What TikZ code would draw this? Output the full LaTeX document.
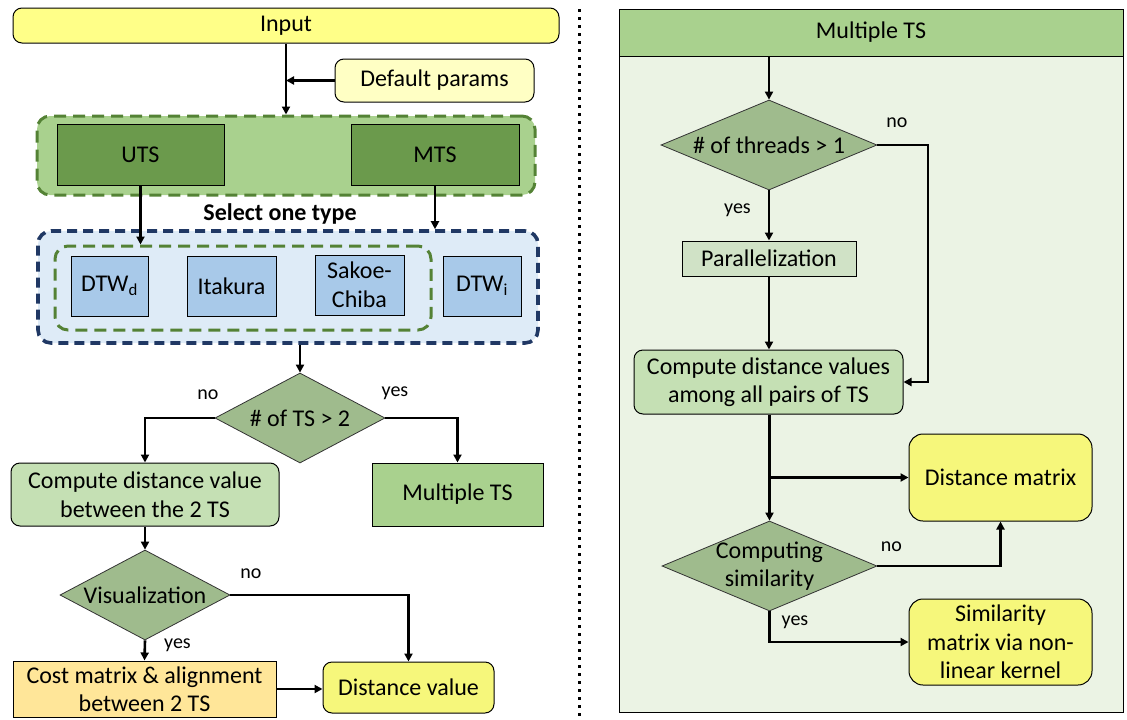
\documentclass[tikz,border=0pt]{standalone}
\usepackage{fontspec}
\setmainfont{Carlito}
\usepackage{tikz}
\usetikzlibrary{positioning, calc, arrows.meta, shapes.geometric}

\definecolor{inputfill}{HTML}{FFFF88}
\definecolor{paramfill}{HTML}{FFFFC4}
\definecolor{groupfill}{HTML}{A9D18E}
\definecolor{groupline}{HTML}{548235}
\definecolor{typefill}{HTML}{6B9A4C}
\definecolor{bluefill}{HTML}{DEEBF7}
\definecolor{blueline}{HTML}{203864}
\definecolor{dtwfill}{HTML}{A8C9E9}
\definecolor{decisionfill}{HTML}{9FBB8D}
\definecolor{computefill}{HTML}{C5E0B4}
\definecolor{costfill}{HTML}{FFE699}
\definecolor{outfill}{HTML}{F6F77B}
\definecolor{panelfill}{HTML}{EBF3E4}
\definecolor{parafill}{HTML}{D0E2C6}

\newcommand{\boxfont}{\fontsize{24}{28.5}\selectfont}
\newcommand{\lblfont}{\fontsize{20}{24}\selectfont}

\begin{document}
\begin{tikzpicture}
    [x=1pt, y=-1pt,
    box/.style={rectangle, draw=black, line width=1pt, inner sep=0pt, align=center, font=\boxfont},
    roundbox/.style={box, rounded corners=9pt},
    decision/.style={diamond, draw=black!80, line width=0.8pt, fill=decisionfill, inner sep=-8pt, align=center, font=\boxfont},
    groupbox/.style={rectangle, rounded corners=13pt, line width=3pt, dash pattern=on 12pt off 7pt},
    lbl/.style={font=\lblfont, inner sep=0pt},
    arrow/.style={line width=2.6pt, -{Triangle[length=8pt, width=8pt]}},]

    \useasboundingbox (0,0) rectangle (1127,720);

    %Left part
    \node[roundbox, fill=inputfill, minimum width=546pt, minimum height=35pt](input) at (286,25.5){Input};
    \node[roundbox, fill=paramfill, minimum width=199pt, minimum height=43pt](params) at (434.5,80.5){Default params};

    \node[groupbox, draw=groupline, fill=groupfill, minimum width=498pt, minimum height=79pt](types) at (286,155.5){};
    \node[box, fill=typefill, minimum width=167pt, minimum height=61pt](uts) at (140.5,154.5){UTS};
    \node[box, fill=typefill, minimum width=168pt, minimum height=61pt](mts) at (435,154.5){MTS};
    \node[font=\boxfont\bfseries](select) at (280,214){Select one type};

    \node[groupbox, draw=blueline, fill=bluefill, line width=3.6pt, dash pattern=on 10pt off 6pt, minimum width=500pt, minimum height=112pt](dtwall) at (288,287){};
    \node[groupbox, draw=groupline, minimum width=376pt, minimum height=84pt](dtwuts) at (243,288){};
    \node[box, fill=dtwfill, minimum width=77pt, minimum height=60pt](dtwd) at (109.5,286){DTW\textsubscript{d}};
    \node[box, fill=dtwfill, minimum width=89pt, minimum height=60pt](itakura) at (231.5,286){Itakura};
    \node[box, fill=dtwfill, minimum width=89pt, minimum height=60pt](sakoe) at (359.5,285){Sakoe-\\Chiba};
    \node[box, fill=dtwfill, minimum width=78pt, minimum height=60pt](dtwi) at (482,286){DTW\textsubscript{i}};

    \node[decision, aspect=1.89, minimum width=170pt, minimum height=90pt](numts) at (300,418){\# of TS > 2};
    \node[roundbox, fill=computefill, minimum width=268pt, minimum height=63pt](twots) at (145,494.5){Compute distance value\\between the 2 TS};
    \node[box, fill=groupfill, minimum width=171pt, minimum height=63pt](multi) at (457.5,494.5){Multiple TS};
    \node[decision, aspect=1.89, minimum width=170pt, minimum height=90pt](visual) at (145,595){Visualization};
    \node[box, fill=costfill, minimum width=263pt, minimum height=56pt](cost) at (144.5,689){Cost matrix \& alignment\\between 2 TS};
    \node[roundbox, fill=outfill, minimum width=171pt, minimum height=51pt](distval) at (408.5,687.5){Distance value};

    \node[lbl](numtsno) at (208,395){no};
    \node[lbl](numtsyes) at (395,393){yes};
    \node[lbl](visualno) at (251,574){no};
    \node[lbl](visualyes) at (177.5,645){yes};

    %Separator
    \draw[line width=3pt, dash pattern=on 3pt off 5pt] (579,9) -- (579,716);

    %Right part
    \node[rectangle, draw=black, line width=1pt, fill=panelfill, minimum width=504pt, minimum height=703pt](panel) at (871,360.5){};
    \node[box, fill=groupfill, minimum width=504pt, minimum height=47pt](title) at (871,32.5){Multiple TS};

    \node[decision, aspect=2.4, minimum width=216pt, minimum height=90pt](threads) at (769,145){\# of threads > 1};
    \node[box, fill=parafill, minimum width=174pt, minimum height=35pt](para) at (769,258.5){Parallelization};
    \node[roundbox, fill=computefill, minimum width=269pt, minimum height=64pt](pairs) at (768.5,382){Compute distance values\\among all pairs of TS};
    \node[roundbox, fill=outfill, rounded corners=14pt, minimum width=183pt, minimum height=87pt](dmat) at (1000.5,477.5){Distance matrix};
    \node[decision, aspect=2.39, minimum width=215pt, minimum height=90pt](simil) at (769.5,566){Computing\\similarity};
    \node[roundbox, fill=outfill, rounded corners=14pt, minimum width=183pt, minimum height=86pt](smat) at (1000.5,642){Similarity\\matrix via non-\\linear kernel};

    \node[lbl](threadsno) at (897,123){no};
    \node[lbl](threadsyes) at (737.5,210){yes};
    \node[lbl](similno) at (891.5,547){no};
    \node[lbl](similyes) at (795,622){yes};

    \coordinate(bend) at (928,145);

    %Lines
    \draw[arrow](input.south)--(types.north);
    \draw[arrow](params.west)--(params.west -| input.south);
    \draw[arrow](uts.south)--(uts.south |- dtwuts.north);
    \draw[arrow](mts.south)--(mts.south |- dtwall.north);
    \draw[arrow](numts.north |- dtwall.south)--(numts.north);
    \draw[arrow](numts.west)-|(twots.north);
    \draw[arrow](numts.east)-|(multi.north);
    \draw[arrow](twots.south)--(visual.north);
    \draw[arrow](visual.east)-|(distval.north);
    \draw[arrow](visual.south)--(cost.north);
    \draw[arrow](cost.east)--(cost.east -| distval.west);

    \draw[arrow](title.south -| threads.north)--(threads.north);
    \draw[arrow](threads.south)--(para.north);
    \draw[arrow](para.south)--(pairs.north -| para.south);
    \draw[arrow](threads.east)--(bend)|-(pairs.east);
    \draw[arrow](pairs.south -| simil.north)--(simil.north);
    \draw[arrow](simil.north |- dmat.west)--(dmat.west);
    \draw[arrow](simil.east)-|(dmat.south);
    \draw[arrow](simil.south)|-(smat.west);
\end{tikzpicture}
\end{document}
